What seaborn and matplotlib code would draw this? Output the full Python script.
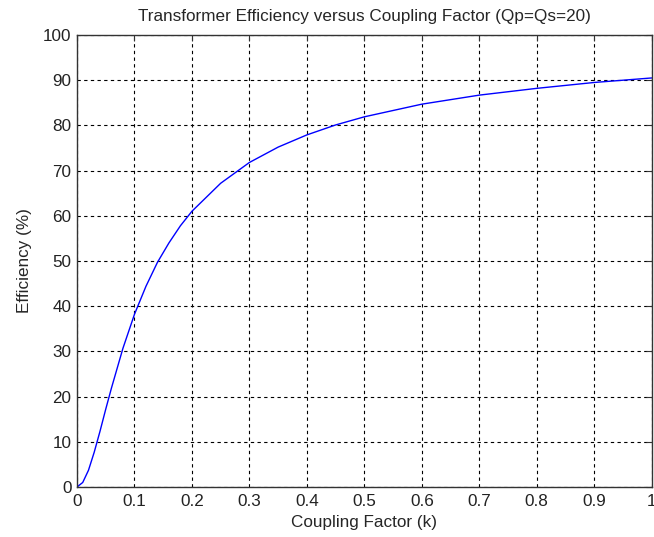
import numpy as np
import pandas as pd
import matplotlib
matplotlib.use("Agg")
import matplotlib.pyplot as plt
import seaborn as sns

# Dados
fator_acoplamento = [0.0, 0.01, 0.02, 0.03, 0.04, 0.05, 0.06, 0.08, 0.10, 0.12,
                     0.14, 0.16, 0.18, 0.20, 0.25, 0.30, 0.35, 0.40, 0.45, 0.50,
                     0.60, 0.70, 0.80, 0.90, 1.00]
eficiencia = [0.0, 1.0, 3.7, 7.7, 12.3, 17.2, 21.9, 30.7, 38.2, 44.4,
              49.7, 54.0, 57.8, 61.0, 67.2, 71.8, 75.2, 77.9, 80.1, 81.9,
              84.7, 86.7, 88.2, 89.5, 90.5]

df = pd.DataFrame({"k": fator_acoplamento, "eff": eficiencia})

sns.set_style("white")
plt.rcParams["font.family"] = ["Liberation Sans", "DejaVu Sans"]

fig = plt.figure(figsize=(6.54, 5.37), dpi=100)
ax = fig.add_axes([0.1177, 0.0931, 0.8788, 0.8417])

sns.lineplot(data=df, x="k", y="eff", color="#0000ff", linewidth=1.0, ax=ax)

ax.set_xlim(0, 1)
ax.set_ylim(0, 100)
ax.set_xticks(np.arange(0, 1.01, 0.1))
ax.set_xticklabels(["0", "0.1", "0.2", "0.3", "0.4", "0.5", "0.6", "0.7", "0.8", "0.9", "1"])
ax.set_yticks(np.arange(0, 101, 10))

ax.grid(True, color="black", linestyle=(0, (3, 3)), linewidth=0.8)
for s in ax.spines.values():
    s.set_color("#333333")
    s.set_linewidth(1.0)
ax.tick_params(direction="in", length=4, color="#333333", labelsize=12.3,
               top=True, right=True, labelcolor="#222222")
ax.tick_params(axis="x", pad=5)
ax.tick_params(axis="y", pad=4)

ax.set_xlabel("Coupling Factor (k)", fontsize=12.3, labelpad=4)
ax.set_ylabel("Efficiency (%)", fontsize=12.3, labelpad=8)
ax.set_title("Transformer Efficiency versus Coupling Factor (Qp=Qs=20)", fontsize=12.3, pad=10)

fig.savefig("out.png", dpi=100)
